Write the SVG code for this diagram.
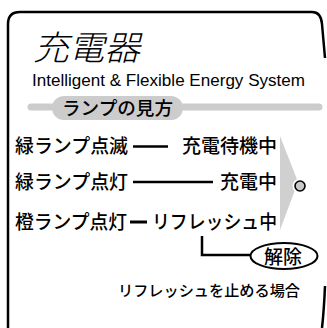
<svg xmlns="http://www.w3.org/2000/svg" width="327" height="328" viewBox="0 0 327 328">
<style>
.jp{font-family:"Noto Sans CJK JP","Noto Sans",sans-serif;fill:#000}
.row{font-size:19px;font-weight:500}
.ln{stroke:#000;stroke-width:2.5;fill:none}
.frame{stroke:#000;stroke-width:2.5;fill:none}
</style>
<rect width="327" height="328" fill="#fff"/>
<g id="frame">
<path class="frame" d="M8 328 V24 Q8 12 20 12 H312 Q321 12 322 24 L325 58"/>
<path class="frame" d="M325 286 Q324 310 322 328"/>
</g>
<g id="title">
<text class="jp" x="33" y="60" font-size="34" font-style="italic" font-weight="300" textLength="107" lengthAdjust="spacingAndGlyphs">充電器</text>
<text x="32" y="86" font-family="Liberation Sans, Arial, sans-serif" font-size="16.5" textLength="273" lengthAdjust="spacingAndGlyphs">Intelligent &amp; Flexible Energy System</text>
</g>
<g id="section-header">
<line x1="31" y1="107" x2="319" y2="107" stroke="#cccccc" stroke-width="7" stroke-linecap="round"/>
<rect x="52" y="96" width="131" height="24" rx="12" fill="#cccccc"/>
<text class="jp" x="62" y="115" font-size="18.5" font-weight="500" textLength="111" lengthAdjust="spacingAndGlyphs">ランプの見方</text>
</g>
<g id="indicator">
<polygon points="280,136 298,182 280,230" fill="#d0d0d0"/>
<circle cx="300" cy="186" r="5" fill="#c8c8c8" stroke="#fff" stroke-width="5"/>
<circle cx="300" cy="186" r="5" fill="#c8c8c8" stroke="#000" stroke-width="1.6"/>
</g>
<g id="connectors">
<line class="ln" x1="133" y1="146.5" x2="168" y2="146.5"/>
<line class="ln" x1="133" y1="182" x2="213" y2="182"/>
<line x1="130" y1="222" x2="147" y2="222" stroke="#000" stroke-width="3"/>
<path class="ln" d="M202 236 V255 H251" stroke-width="2.8"/>
</g>
<g id="row1">
<text class="jp row" x="15" y="153" textLength="113" lengthAdjust="spacingAndGlyphs">緑ランプ点滅</text>
<text class="jp row" x="182" y="153" textLength="95" lengthAdjust="spacingAndGlyphs">充電待機中</text>
</g>
<g id="row2">
<text class="jp row" x="15" y="189" textLength="113" lengthAdjust="spacingAndGlyphs">緑ランプ点灯</text>
<text class="jp row" x="220" y="189" textLength="57" lengthAdjust="spacingAndGlyphs">充電中</text>
</g>
<g id="row3">
<text class="jp row" x="15" y="229" textLength="112" lengthAdjust="spacingAndGlyphs">橙ランプ点灯</text>
<text class="jp row" x="152" y="229" textLength="125" lengthAdjust="spacingAndGlyphs">リフレッシュ中</text>
</g>
<g id="release">
<ellipse cx="284" cy="256" rx="33.5" ry="13" fill="#fff" stroke="#000" stroke-width="2"/>
<text class="jp row" x="283" y="263.5" text-anchor="middle">解除</text>
</g>
<g id="note">
<text class="jp" x="118" y="295.5" font-size="15" font-weight="500" textLength="182" lengthAdjust="spacingAndGlyphs">リフレッシュを止める場合</text>
</g>
</svg>
